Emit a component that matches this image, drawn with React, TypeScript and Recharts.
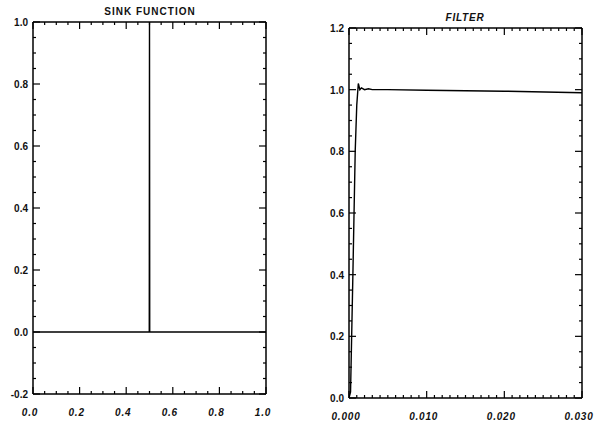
import { LineChart, Line, XAxis, YAxis } from 'recharts'

// sink function: flat baseline with one spike at 0.5
const sinkX = [0, 0.499, 0.5, 0.501, 1.0]
const sinkY = [0, 0, 1.0, 0, 0]

// filter response: fast rise, small overshoot, then flat at 1
const filterX = [0, 0.0002, 0.0005, 0.0008, 0.0010, 0.0012, 0.0014, 0.0016, 0.002, 0.0025, 0.003, 0.005, 0.01, 0.02, 0.03]
const filterY = [0, 0.02, 0.4, 0.8, 0.95, 1.02, 1.0, 1.006, 1.0, 1.003, 1.0, 1.0, 0.998, 0.995, 0.99]

// major tick labels
const sinkXMajor = [0, 0.2, 0.4, 0.6, 0.8, 1.0]
const sinkYMajor = [-0.2, 0, 0.2, 0.4, 0.6, 0.8, 1.0]
const filterXMajor = [0, 0.01, 0.02, 0.03]
const filterYMajor = [0, 0.2, 0.4, 0.6, 0.8, 1.0, 1.2]

const sinkData = sinkX.map((x, i) => ({ x, y: sinkY[i] }))
const filterData = filterX.map((x, i) => ({ x, y: filterY[i] }))

// major ticks plus evenly spaced minor ticks between them
const withMinor = (majors: number[], parts: number) => {
  const out: number[] = []
  for (let i = 0; i < majors.length - 1; i++) {
    const step = (majors[i + 1] - majors[i]) / parts
    for (let k = 0; k < parts; k++) out.push(+(majors[i] + k * step).toFixed(6))
  }
  out.push(majors[majors.length - 1])
  return out
}

const isMajor = (v: number, majors: number[]) => majors.some((m) => Math.abs(m - v) < 1e-7)

const labelStyle = { fontFamily: 'Liberation Sans, Arial, sans-serif', fontSize: 10, fontWeight: 700, fill: '#111' }

const makeTick = (side: 'bottom' | 'top' | 'left' | 'right', majors: number[], digits: number, showLabel: boolean) =>
  (props: any) => {
    const { x, y, payload } = props
    const major = isMajor(payload.value, majors)
    const len = major ? 7 : 3
    let x2 = x
    let y2 = y
    if (side === 'bottom') y2 = y - len
    if (side === 'top') y2 = y + len
    if (side === 'left') x2 = x + len
    if (side === 'right') x2 = x - len
    const label = payload.value.toFixed(digits)
    return (
      <g>
        <line x1={x} y1={y} x2={x2} y2={y2} stroke="#000" strokeWidth={1.2} />
        {showLabel && major && side === 'bottom' && (
          <text x={x - 3} y={y + 22} textAnchor="middle" {...labelStyle} fontStyle="italic" letterSpacing={0.8}>
            {label}
          </text>
        )}
        {showLabel && major && side === 'left' && (
          <text x={x - 5} y={y + 4} textAnchor="end" {...labelStyle}>
            {label}
          </text>
        )}
      </g>
    )
  }

type PanelProps = {
  data: { x: number; y: number }[]
  xDomain: [number, number]
  yDomain: [number, number]
  xMajor: number[]
  yMajor: number[]
  xParts: number
  yParts: number
  xDigits: number
  width: number
  margin: { top: number; right: number; bottom: number; left: number }
  leftAxisWidth: number
  bottomAxisHeight: number
}

function Panel(p: PanelProps) {
  const xTicks = withMinor(p.xMajor, p.xParts)
  const yTicks = withMinor(p.yMajor, p.yParts)
  const common = { type: 'number' as const, allowDataOverflow: true, interval: 0 as const, tickLine: false, tickSize: 0, tickMargin: 0 }
  return (
    <LineChart width={p.width} height={423} data={p.data} margin={p.margin}>
      <XAxis
        {...common}
        xAxisId="b"
        dataKey="x"
        domain={p.xDomain}
        ticks={xTicks}
        height={p.bottomAxisHeight}
        axisLine={{ stroke: '#000', strokeWidth: 1.5 }}
        tick={makeTick('bottom', p.xMajor, p.xDigits, true)}
      />
      <XAxis
        {...common}
        xAxisId="t"
        orientation="top"
        dataKey="x"
        domain={p.xDomain}
        ticks={xTicks}
        height={1}
        axisLine={{ stroke: '#000', strokeWidth: 1.5 }}
        tick={makeTick('top', p.xMajor, p.xDigits, false)}
      />
      <YAxis
        {...common}
        yAxisId="l"
        domain={p.yDomain}
        ticks={yTicks}
        width={p.leftAxisWidth}
        axisLine={{ stroke: '#000', strokeWidth: 1.5 }}
        tick={makeTick('left', p.yMajor, 1, true)}
      />
      <YAxis
        {...common}
        yAxisId="r"
        orientation="right"
        domain={p.yDomain}
        ticks={yTicks}
        width={1}
        axisLine={{ stroke: '#000', strokeWidth: 1.5 }}
        tick={makeTick('right', p.yMajor, 1, false)}
      />
      <Line
        xAxisId="b"
        yAxisId="l"
        dataKey="y"
        type="linear"
        stroke="#000"
        strokeWidth={1.4}
        dot={false}
        isAnimationActive={false}
      />
    </LineChart>
  )
}

const titleStyle = {
  position: 'absolute' as const,
  fontFamily: 'Liberation Sans, Arial, sans-serif',
  fontSize: 10,
  fontWeight: 700,
  color: '#111',
  textAlign: 'center' as const,
}

export default function App() {
  return (
    <div style={{ position: 'absolute', left: 0, top: 0, width: 606, height: 423, background: '#fff' }}>
      <div style={{ position: 'absolute', left: 0, top: 0 }}>
        <Panel
          data={sinkData}
          xDomain={[0, 1]}
          yDomain={[-0.2, 1.0]}
          xMajor={sinkXMajor}
          yMajor={sinkYMajor}
          xParts={4}
          yParts={4}
          xDigits={1}
          width={300}
          margin={{ top: 21, right: 33, bottom: 0, left: 0 }}
          leftAxisWidth={33}
          bottomAxisHeight={29}
        />
      </div>
      <div style={{ position: 'absolute', left: 300, top: 0 }}>
        <Panel
          data={filterData}
          xDomain={[0, 0.03]}
          yDomain={[0, 1.2]}
          xMajor={filterXMajor}
          yMajor={filterYMajor}
          xParts={10}
          yParts={4}
          xDigits={3}
          width={306}
          margin={{ top: 27, right: 23, bottom: 0, left: 0 }}
          leftAxisWidth={49}
          bottomAxisHeight={25}
        />
      </div>
      <div style={{ ...titleStyle, left: 90, top: 6, width: 120, fontWeight: 600, letterSpacing: 1 }}>SINK FUNCTION</div>
      <div style={{ ...titleStyle, left: 430, top: 12, width: 70, fontStyle: 'italic', letterSpacing: 0.8 }}>FILTER</div>
    </div>
  )
}
